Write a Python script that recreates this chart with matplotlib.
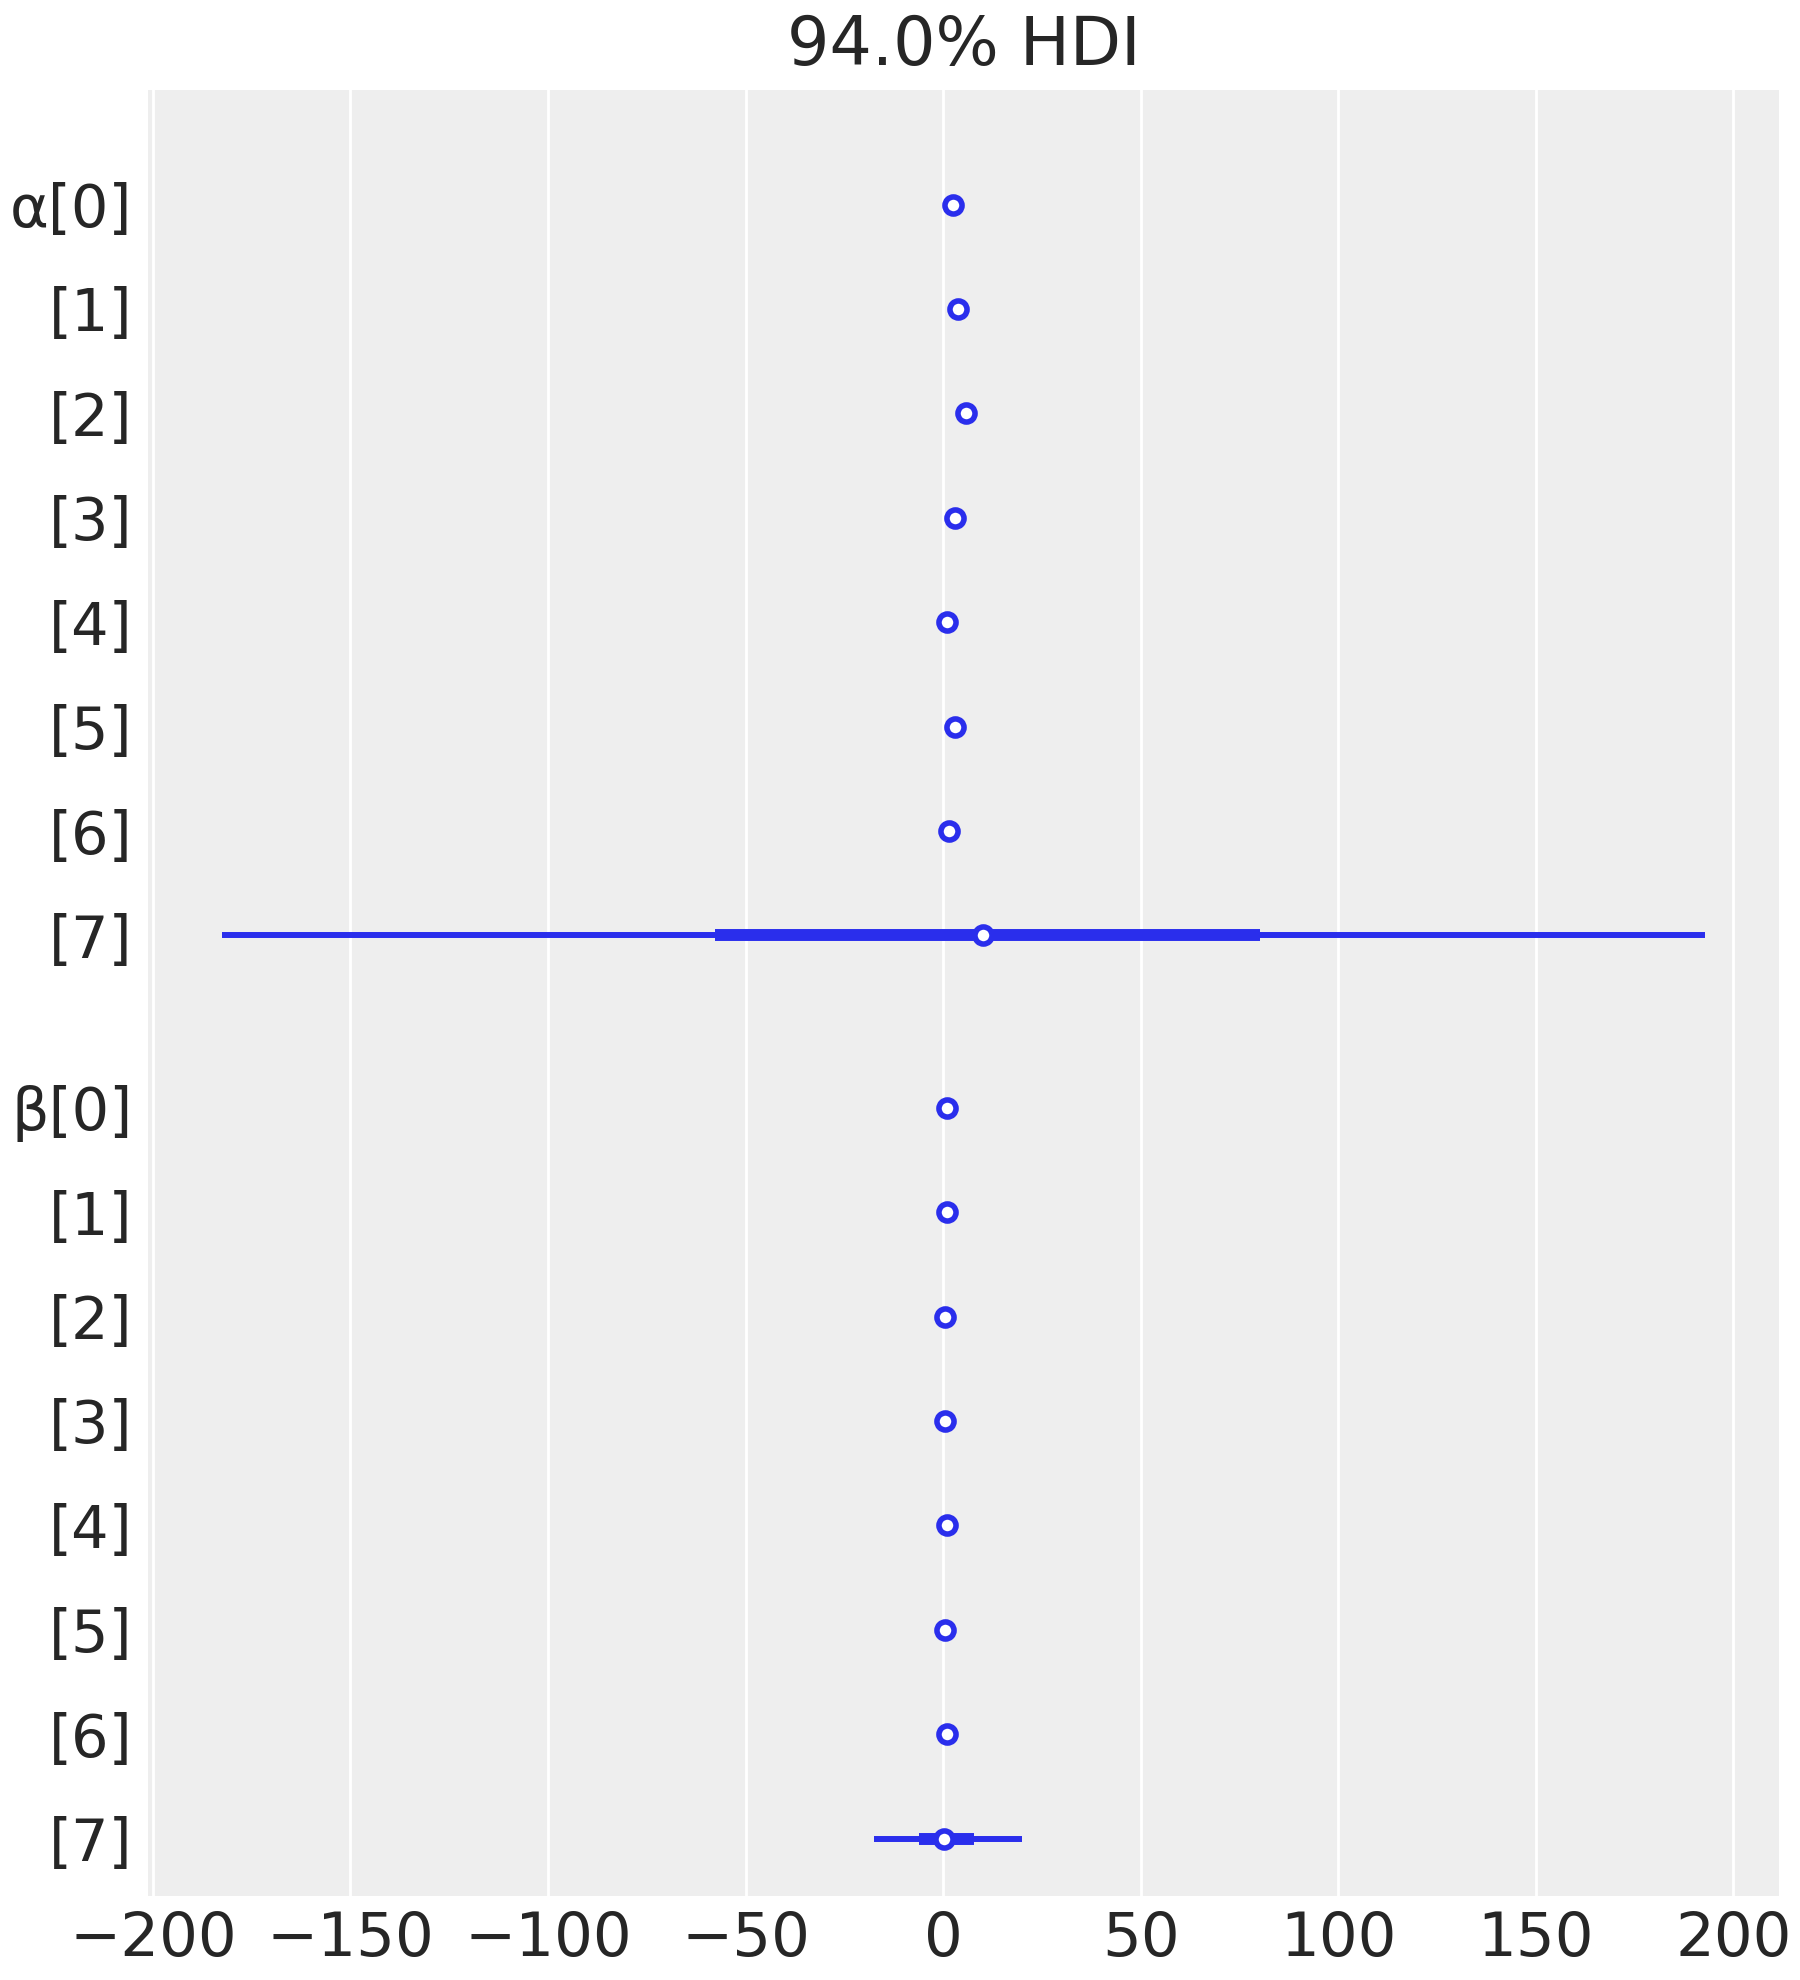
import numpy as np
import matplotlib.pyplot as plt

# Datos (mediana, HDI 94% y HDI 50%)
labels = ["α[0]", "[1]", "[2]", "[3]", "[4]", "[5]", "[6]", "[7]",
          "β[0]", "[1]", "[2]", "[3]", "[4]", "[5]", "[6]", "[7]"]
groups = [0] * 8 + [1] * 8

median = [2.4, 3.7, 5.7, 2.9, 0.9, 3.1, 1.5, 10.2,
          0.9, 0.9, 0.6, 0.6, 0.9, 0.6, 0.9, 0.3]
hdi94_low = [1.4, 2.7, 4.7, 1.9, -0.1, 2.1, 0.5, -182.5,
             0.2, 0.2, -0.1, -0.1, 0.2, -0.1, 0.2, -17.4]
hdi94_high = [3.4, 4.7, 6.7, 3.9, 1.9, 4.1, 2.5, 192.8,
              1.6, 1.6, 1.3, 1.3, 1.6, 1.3, 1.6, 20.0]
hdi50_low = [2.0, 3.3, 5.3, 2.5, 0.5, 2.7, 1.1, -57.8,
             0.6, 0.6, 0.3, 0.3, 0.6, 0.3, 0.6, -6.1]
hdi50_high = [2.8, 4.1, 6.1, 3.3, 1.3, 3.5, 1.9, 80.3,
              1.2, 1.2, 0.9, 0.9, 1.2, 0.9, 1.2, 7.7]

color = "#2a2eec"
text_color = "#262626"

# posiciones de las filas (hueco extra entre variables)
y = np.arange(len(labels)) + np.array(groups) * 0.65

fig, ax = plt.subplots(figsize=(18, 19.8), dpi=100)
fig.subplots_adjust(left=0.0822, right=0.9883, top=0.9545, bottom=0.0424)
ax.set_facecolor("#eeeeee")
for s in ax.spines.values():
    s.set_visible(False)

ax.hlines(y, hdi94_low, hdi94_high, color=color, lw=4.3, capstyle="butt", zorder=3)
ax.hlines(y, hdi50_low, hdi50_high, color=color, lw=8.6, capstyle="butt", zorder=3)
ax.plot(median, y, "o", ms=12.3, mfc="white", mec=color, mew=4.0, zorder=4)

ax.set_yticks(y)
ax.set_yticklabels(labels)
ax.set_ylim(y[-1] + 0.55, y[0] - 1.096)
ax.set_xticks([-200, -150, -100, -50, 0, 50, 100, 150, 200])
ax.margins(x=0.05)

ax.grid(axis="x", color="white", lw=2.0)
ax.grid(axis="y", visible=False)
ax.set_axisbelow(True)
ax.tick_params(length=0, labelsize=44, colors=text_color)
ax.tick_params(axis="y", pad=11, labelsize=42.5)
ax.tick_params(axis="x", pad=10)

ax.set_title("94.0% HDI", fontsize=48, color=text_color, pad=18)

plt.savefig("out.png", dpi=100)
